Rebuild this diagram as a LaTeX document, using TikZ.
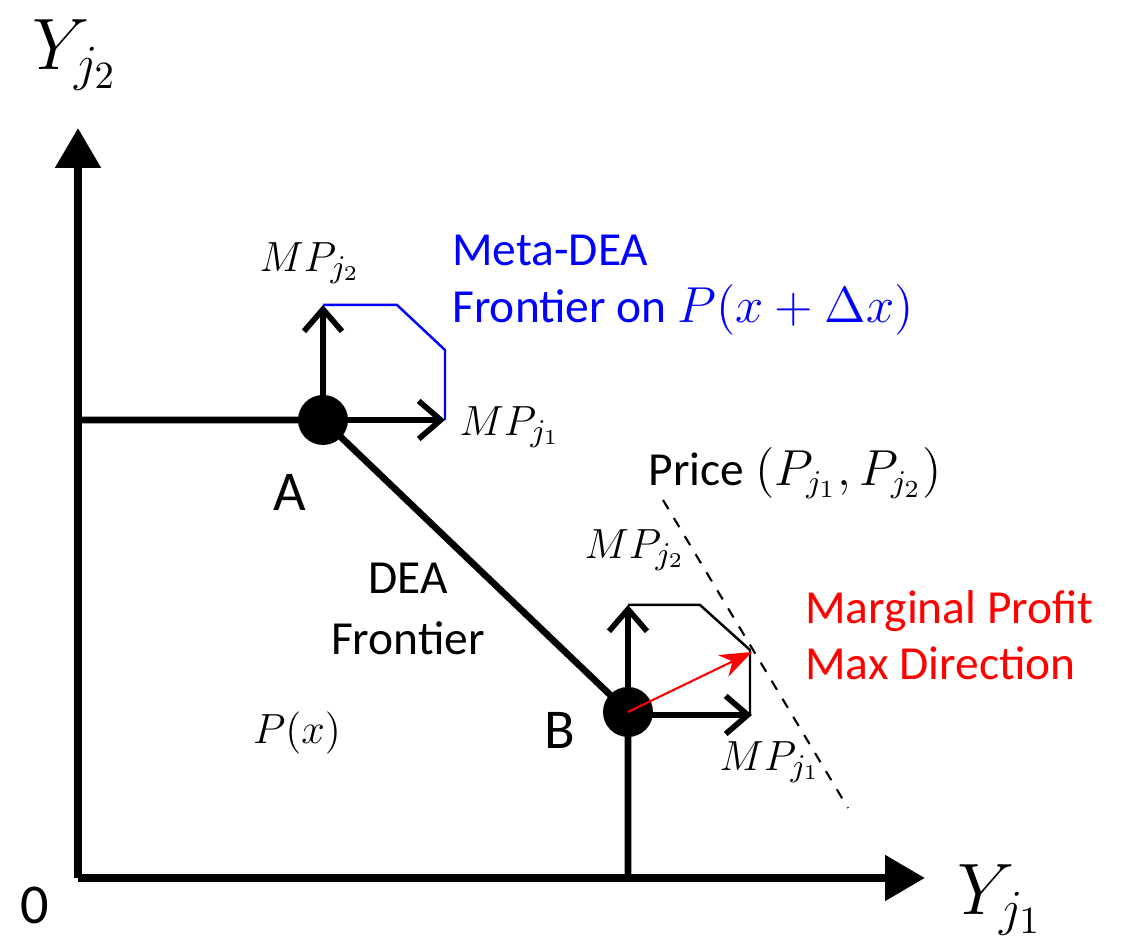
\documentclass[tikz,border=0pt]{standalone}
\usepackage{fontspec}
\setmainfont{Carlito}
\usepackage{tikz}
\usetikzlibrary{arrows.meta,positioning,calc}

\begin{document}
\begin{tikzpicture}[
  every node/.style={font=\fontsize{13.5}{16}\selectfont},
  axis/.style={line width=2.4pt, -{Triangle[length=4mm,width=4.4mm]}},
  frontier/.style={line width=1.9pt},
  mpvec/.style={line width=1.7pt, -{Straight Barb[length=2.2mm,width=3.8mm,line width=1.6pt]}},
  unit/.style={circle, fill=black, inner sep=0pt, minimum size=5mm},
  mathlbl/.style={font=\fontsize{13}{15}\selectfont}
]
\useasboundingbox (0,0) rectangle (11.28,9.45);
\coordinate (O) at (0.78,0.67);
\coordinate (Ytop) at (0.78,8.17);
\coordinate (Xend) at (9.25,0.67);
\coordinate (Aleft) at (0.78,5.25);
\coordinate (Bfoot) at (6.28,0.67);
% axes
\draw[axis] (O) -- (Ytop);
\draw[axis] (O) -- (Xend);
\node[font=\fontsize{21}{24}\selectfont] (ylab) at (0.75,8.90) {$Y_{j_2}$};
\node[font=\fontsize{21}{24}\selectfont] (xlab) at (10.0,0.45) {$Y_{j_1}$};
\node[font=\fontsize{16}{18}\selectfont] (zero) at (0.35,0.40) {0};
% DEA frontier through A and B
\node[unit] (A) at (3.23,5.25) {};
\node[unit] (B) at (6.28,2.33) {};
\draw[frontier] (Aleft) -- (A.center) -- (B.center) -- (Bfoot);
\node[font=\fontsize{16}{18}\selectfont] (Alab) at (2.90,4.53) {A};
\node[font=\fontsize{16}{18}\selectfont] (Blab) at (5.60,2.15) {B};
\node (deaA) at (4.08,3.67) {DEA};
\node (deaB) at (4.08,3.07) {Frontier};
\node[mathlbl] (Px) at (2.97,2.12) {$P(x)$};
% marginal products at A
\coordinate (Aup) at (3.23,6.40);
\coordinate (Aright) at (4.45,5.25);
\draw[blue, line width=0.7pt] (Aup) -- (3.97,6.40) -- (4.45,5.95) -- (Aright);
\draw[mpvec] (A.center) -- (Aup);
\draw[mpvec] (A.center) -- (Aright);
\node[mathlbl] (mpAtwo) at (3.10,6.82) {$MP_{j_2}$};
\node[mathlbl] (mpAone) at (5.10,5.18) {$MP_{j_1}$};
\node[text=blue, align=left, anchor=north west] (meta) at (4.40,7.22)
  {Meta-DEA\\Frontier on $P(x+\Delta x)$};
% marginal products at B
\coordinate (Bup) at (6.28,3.40);
\coordinate (Bright) at (7.52,2.30);
\coordinate (Bbest) at (7.52,2.93);
\draw[line width=0.7pt] (Bup) -- (7.00,3.40) -- (7.50,2.95) -- (7.50,2.30);
\draw[mpvec] (B.center) -- (Bup);
\draw[mpvec] (6.28,2.30) -- (Bright);
\draw[red, line width=0.6pt, -{Stealth[length=3.2mm,width=2.4mm]}] (B.center) -- (Bbest);
\node[mathlbl] (mpBtwo) at (6.35,3.95) {$MP_{j_2}$};
\node[mathlbl] (mpBone) at (7.70,1.83) {$MP_{j_1}$};
% price line
\coordinate (Ptop) at (6.63,4.45);
\coordinate (Pbot) at (8.48,1.37);
\draw[dashed, line width=0.6pt] (Ptop) -- (Pbot);
\node (price) at (7.95,4.72) {Price $(P_{j_1},P_{j_2})$};
\node[text=red, align=left, anchor=north west] (mpmax) at (7.93,3.67)
  {Marginal Profit\\Max Direction};
\end{tikzpicture}
\end{document}
